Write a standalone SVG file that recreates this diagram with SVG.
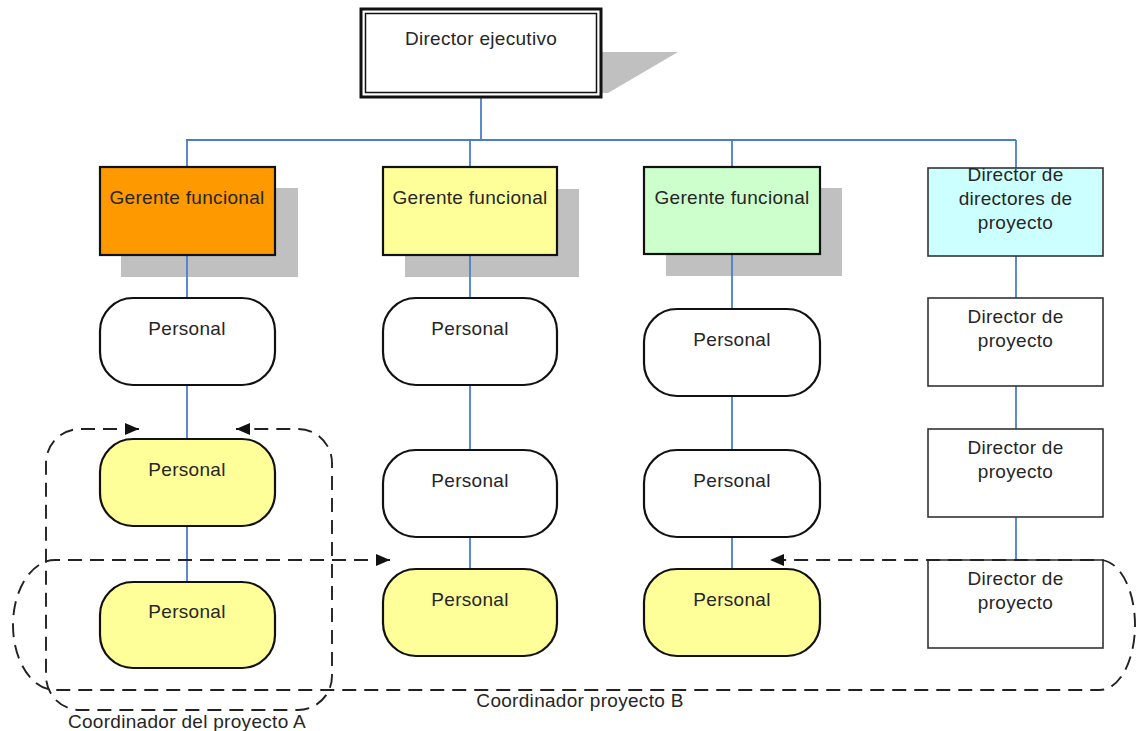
<svg xmlns="http://www.w3.org/2000/svg" width="1137" height="731" viewBox="0 0 1137 731">
<style>
text{font-family:"Liberation Sans",Arial,sans-serif;font-size:19px;fill:#262626;text-anchor:middle;letter-spacing:0.3px}
.shadow{fill:#c0c0c0}
.mgr{stroke:#111;stroke-width:2.2}
.pill{stroke:#111;stroke-width:2.2}
.pd{fill:#fff;stroke:#333;stroke-width:1.6}
.conn{stroke:#4a7ecb;stroke-width:1.8;fill:none}
.dash{stroke:#222;stroke-width:1.9;fill:none;stroke-dasharray:14 8}
</style>
<defs>
<marker id="arr" viewBox="0 0 14 12" refX="14" refY="6" markerWidth="14" markerHeight="12" markerUnits="userSpaceOnUse" orient="auto-start-reverse">
<path d="M0,0 L14,6 L0,12 z" fill="#111"/>
</marker>
</defs>
<rect width="1137" height="731" fill="#fff"/>
<g id="shadows">
<polygon class="shadow" points="602,52 678,52 608,93 602,93"/>
<rect class="shadow" x="121" y="188" width="177" height="89"/>
<rect class="shadow" x="405" y="189" width="174" height="88"/>
<rect class="shadow" x="666" y="188" width="176" height="88"/>
</g>
<g id="connectors">
<line class="conn" x1="481" y1="97" x2="481" y2="140"/>
<line class="conn" x1="186" y1="140" x2="1016" y2="140"/>
<line class="conn" x1="187" y1="140" x2="187" y2="582"/>
<line class="conn" x1="470" y1="140" x2="470" y2="569"/>
<line class="conn" x1="732" y1="140" x2="732" y2="569"/>
<line class="conn" x1="1016" y1="140" x2="1016" y2="560"/>
</g>
<g id="director-ejecutivo">
<rect x="361" y="9" width="240" height="88" fill="#fff" stroke="#111" stroke-width="3"/>
<rect x="365.5" y="13.5" width="231" height="79" fill="none" stroke="#111" stroke-width="1.5"/>
<text x="481" y="45">Director ejecutivo</text>
</g>
<g id="gerente-1">
<rect class="mgr" x="100" y="167" width="175" height="88" fill="#ff9900"/>
<text x="187" y="204">Gerente funcional</text>
</g>
<g id="gerente-2">
<rect class="mgr" x="383" y="167" width="174" height="88" fill="#ffff99"/>
<text x="470" y="204">Gerente funcional</text>
</g>
<g id="gerente-3">
<rect class="mgr" x="644" y="167" width="176" height="87" fill="#ccffcc"/>
<text x="732" y="204">Gerente funcional</text>
</g>
<g id="director-directores">
<rect x="928" y="168" width="175" height="88" fill="#ccffff" stroke="#333" stroke-width="1.6"/>
<text x="1015.5" y="181">Director de</text>
<text x="1015.5" y="205">directores de</text>
<text x="1015.5" y="229">proyecto</text>
</g>
<g id="personal-1a">
<rect class="pill" x="100" y="298" width="175" height="87" rx="33" fill="#fff"/>
<text x="187" y="335">Personal</text>
</g>
<g id="personal-1b">
<rect class="pill" x="100" y="439" width="175" height="87" rx="33" fill="#ffff99"/>
<text x="187" y="476">Personal</text>
</g>
<g id="personal-1c">
<rect class="pill" x="100" y="582" width="175" height="86" rx="33" fill="#ffff99"/>
<text x="187" y="618">Personal</text>
</g>
<g id="personal-2a">
<rect class="pill" x="383" y="298" width="174" height="87" rx="33" fill="#fff"/>
<text x="470" y="335">Personal</text>
</g>
<g id="personal-2b">
<rect class="pill" x="383" y="450" width="174" height="87" rx="33" fill="#fff"/>
<text x="470" y="487">Personal</text>
</g>
<g id="personal-2c">
<rect class="pill" x="383" y="569" width="174" height="87" rx="33" fill="#ffff99"/>
<text x="470" y="606">Personal</text>
</g>
<g id="personal-3a">
<rect class="pill" x="644" y="309" width="176" height="87" rx="33" fill="#fff"/>
<text x="732" y="346">Personal</text>
</g>
<g id="personal-3b">
<rect class="pill" x="644" y="450" width="176" height="87" rx="33" fill="#fff"/>
<text x="732" y="487">Personal</text>
</g>
<g id="personal-3c">
<rect class="pill" x="644" y="569" width="176" height="87" rx="33" fill="#ffff99"/>
<text x="732" y="606">Personal</text>
</g>
<g id="director-proyecto-1">
<rect class="pd" x="928" y="298" width="175" height="88"/>
<text x="1015.5" y="323">Director de</text>
<text x="1015.5" y="347">proyecto</text>
</g>
<g id="director-proyecto-2">
<rect class="pd" x="928" y="429" width="175" height="88"/>
<text x="1015.5" y="454">Director de</text>
<text x="1015.5" y="478">proyecto</text>
</g>
<g id="director-proyecto-3">
<rect class="pd" x="928" y="560" width="175" height="88"/>
<text x="1015.5" y="585">Director de</text>
<text x="1015.5" y="609">proyecto</text>
</g>
<g id="coordinador-a">
<path class="dash" d="M139 429 H80 A34 34 0 0 0 46 463 V676 A34 34 0 0 0 80 710 H298 A34 34 0 0 0 332 676 V463 A34 34 0 0 0 298 429 H236" marker-start="url(#arr)" marker-end="url(#arr)"/>
<text x="187" y="728">Coordinador del proyecto A</text>
</g>
<g id="coordinador-b">
<path class="dash" d="M390 560 H55 A42 65 0 0 0 55 690 H1100 A35 65 0 0 0 1100 560 H770" marker-start="url(#arr)" marker-end="url(#arr)"/>
<text x="580" y="707">Coordinador proyecto B</text>
</g>
</svg>
